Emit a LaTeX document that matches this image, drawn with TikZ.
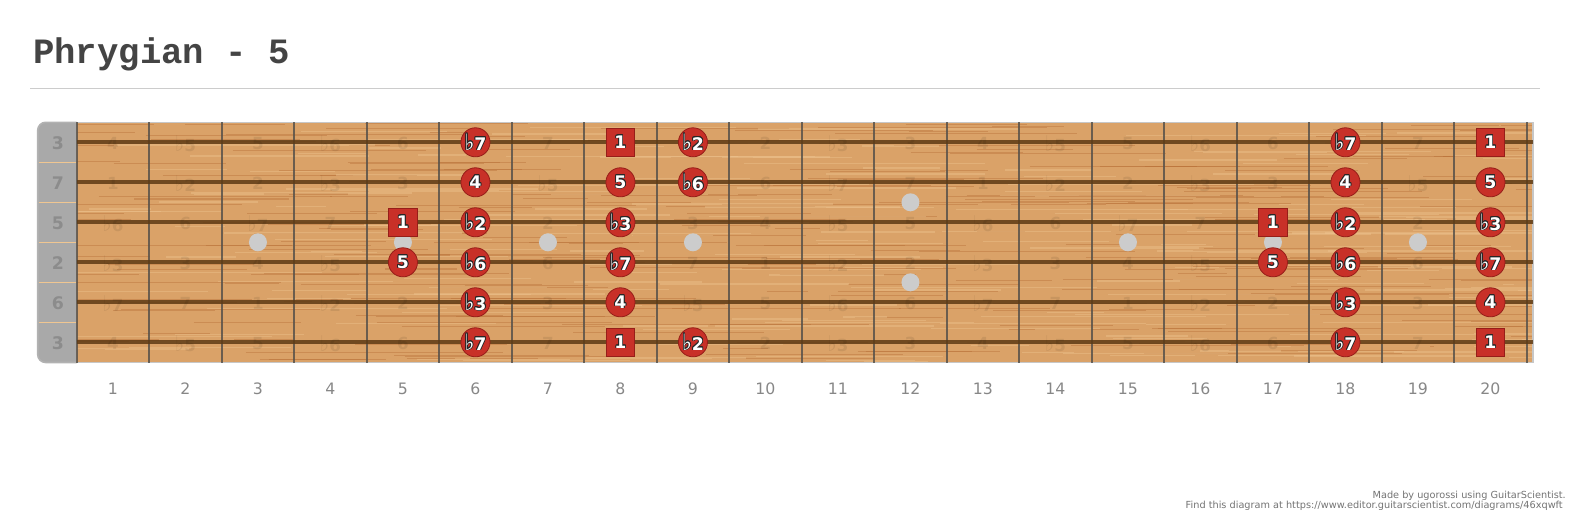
\documentclass[tikz,border=0pt]{standalone}
\usepackage{fontspec}
\setmainfont{DejaVu Sans}
\newfontfamily\titlefont{Liberation Mono}
\usepackage{contour}
\contourlength{0.55pt}
\definecolor{wood}{RGB}{218,162,104}
\definecolor{grainDark}{RGB}{182,108,52}
\definecolor{grainLight}{RGB}{240,198,145}
\definecolor{stringBrown}{RGB}{94,58,20}
\definecolor{fretGray}{RGB}{88,82,74}
\definecolor{nutGray}{RGB}{169,169,169}
\definecolor{noteRed}{RGB}{200,48,40}
\definecolor{noteEdge}{RGB}{150,30,25}
\definecolor{inlay}{RGB}{204,204,204}
\definecolor{titleGray}{RGB}{68,68,68}
\newcommand\fl{\scalebox{1.2}[1.3]{♭}}
\newcommand\ivl[1]{\ifcase#1 1\or \fl2\or 2\or \fl3\or 3\or 4\or \fl5\or 5\or \fl6\or 6\or \fl7\or 7\fi}
\newcommand\notelabel[1]{\contour{black!85}{#1}}
\tikzset{
  grain/.style={line width=0.5pt, opacity=0.4},
  guitarstring/.style={stringBrown, line width=2.8pt, opacity=0.85},
  fretwire/.style={fretGray, line width=1.5pt, opacity=0.85},
  ghost/.style={font=\bfseries\fontsize{12.5}{14}\selectfont, text=black, text opacity=0.08, inner sep=0pt},
  tuning/.style={font=\bfseries\fontsize{13}{15}\selectfont, text=black!45, inner sep=0pt},
  notedot/.style={circle, fill=noteRed, draw=noteEdge, line width=0.6pt, minimum size=21.8pt, inner sep=0pt, text=white, font=\bfseries\fontsize{13}{15}\selectfont},
  rootbox/.style={rectangle, fill=noteRed, draw=noteEdge, line width=0.6pt, minimum size=21.2pt, inner sep=0pt, text=white, font=\bfseries\fontsize{13}{15}\selectfont},
  fretnum/.style={font=\fontsize{11.8}{13}\selectfont, text=black!47, inner sep=0pt},
  footer/.style={font=\fontsize{7.3}{8}\selectfont, text=black!55, inner sep=0pt, anchor=base east}
}
\begin{document}
\begin{tikzpicture}[x=0.75pt, y=-0.75pt]
  \useasboundingbox (0,0) rectangle (1573,519);
  % title
  \node[anchor=base west, inner sep=0pt, text=titleGray, font=\titlefont\bfseries\fontsize{26.7}{30}\selectfont] (title) at (33,63.3) {Phrygian - 5};
  \draw[black!20, line width=0.75pt] (30,88.3) -- (1540,88.3);
  % fretboard
  \fill[wood] (76.7,122.3) rectangle (1533,362.5);
  \begin{scope}
    \clip (76.7,122.3) rectangle (1533,362.5);
    \pgfmathsetseed{11}
    \foreach \i in {1,...,260} {
      \pgfmathsetmacro\gy{rnd*240+122}
      \pgfmathsetmacro\gx{rnd*1500+40}
      \pgfmathsetmacro\gl{rnd*220+40}
      \pgfmathsetmacro\gw{rnd*0.6+0.3}
      \draw[grain, grainDark, line width=\gw pt] (\gx,\gy) -- ++(\gl,0);
    }
    \foreach \i in {1,...,220} {
      \pgfmathsetmacro\gy{rnd*240+122}
      \pgfmathsetmacro\gx{rnd*1500+40}
      \pgfmathsetmacro\gl{rnd*220+40}
      \draw[grain, grainLight, line width=1pt] (\gx,\gy) -- ++(\gl,0);
    }
  \end{scope}
  \fill[nutGray] (76.7,122.3) [rounded corners=6] -- (37.7,122.3) -- (37.7,362.5) [sharp corners] -- (76.7,362.5) -- cycle;
  \draw[black!30, line width=1.2pt] (76.7,122.3) [rounded corners=6] -- (37.7,122.3) -- (37.7,362.5) [sharp corners] -- (76.7,362.5);
  \draw[black!22, line width=1.2pt] (76.7,122.3) -- (1533,122.3) -- (1533,362.5) -- (76.7,362.5);
  \foreach \s in {1,...,5}
    \draw[grainLight, line width=0.5pt] (38.5,122.3+40*\s) -- (76.7,122.3+40*\s);
  % inlays
  \foreach \f in {3,5,7,9,15,17,19}
    \fill[inlay] (40.45+72.5*\f,242.3) circle (9);
  \fill[inlay] (40.45+72.5*12,202.3) circle (9);
  \fill[inlay] (40.45+72.5*12,282.3) circle (9);
  % frets
  \foreach \f in {0,...,20}
    \draw[fretwire] (76.7+72.5*\f,122.3) -- (76.7+72.5*\f,362.5);
  % strings
  \foreach \s in {1,...,6}
    \draw[guitarstring] (76.7,102.3+40*\s) -- (1533,102.3+40*\s);
  % tuning and faint intervals
  \foreach \s/\off/\t in {1/4/3,2/11/7,3/7/5,4/2/2,5/9/6,6/4/3} {
    \node[tuning] (tune-\s) at (58,102.8+40*\s) {\t};
    \foreach \f in {1,...,20} {
      \pgfmathtruncatemacro\idx{mod(\off+\f,12)}
      \node[ghost] (ghost-\s-\f) at (40.45+72.5*\f,103.3+40*\s) {\ivl{\idx}};
    }
  }
  % scale notes
  \foreach \s/\f/\t in {1/6/\fl7,1/9/\fl2,1/18/\fl7,
      2/6/4,2/8/5,2/9/\fl6,2/18/4,2/20/5,
      3/6/\fl2,3/8/\fl3,3/18/\fl2,3/20/\fl3,
      4/5/5,4/6/\fl6,4/8/\fl7,4/17/5,4/18/\fl6,4/20/\fl7,
      5/6/\fl3,5/8/4,5/18/\fl3,5/20/4,
      6/6/\fl7,6/9/\fl2,6/18/\fl7}
    \node[notedot] (note-\s-\f) at (40.45+72.5*\f,102.3+40*\s) {\notelabel{\t}};
  \foreach \s/\f in {1/8,1/20,3/5,3/17,6/8,6/20}
    \node[rootbox] (root-\s-\f) at (40.45+72.5*\f,102.3+40*\s) {\notelabel{1}};
  % fret numbers
  \foreach \f in {1,...,20}
    \node[fretnum] (num-\f) at (40.45+72.5*\f,389) {\f};
  % footer
  \node[footer] (made) at (1566,498) {Made by ugorossi using GuitarScientist.};
  \node[footer] (link) at (1563,508) {Find this diagram at https://www.editor.guitarscientist.com/diagrams/46xqwft};
\end{tikzpicture}
\end{document}
